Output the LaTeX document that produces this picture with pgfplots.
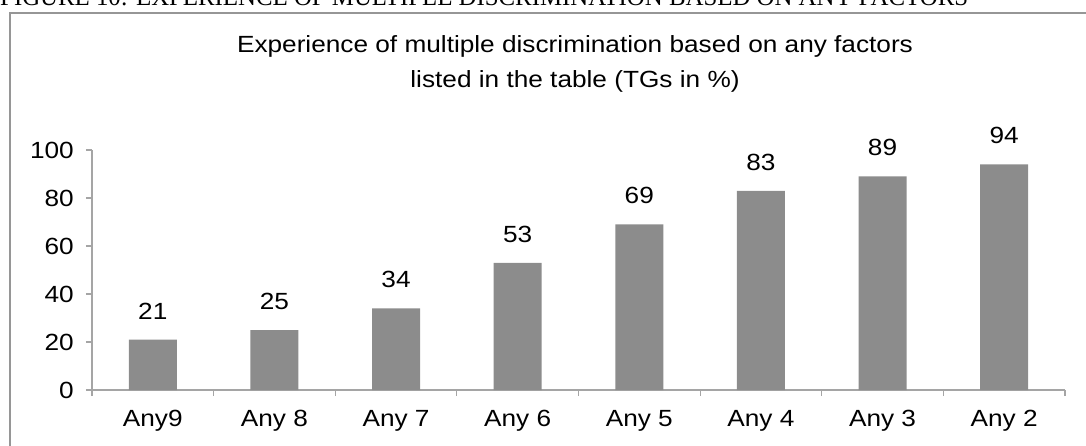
\documentclass[border=0pt]{standalone}
\usepackage{fontspec}
\setmainfont{Liberation Sans}[FakeStretch=1.12]
\newfontfamily\capfont{Liberation Serif}
\usepackage{graphicx}
\usepackage{pgfplots}
\pgfplotsset{compat=1.18}
\definecolor{bargray}{RGB}{140,140,140}
\definecolor{axisgray}{RGB}{165,165,165}
\definecolor{framegray}{RGB}{150,150,150}
\begin{document}
\begin{tikzpicture}[x=1pt,y=1pt]
\path[use as bounding box] (0,0) rectangle (1086,445);
\clip (0,0) rectangle (1086,445);
\node[anchor=base west, inner sep=0] at (0,439) {\resizebox{968pt}{17pt}{\capfont FIGURE 10: EXPERIENCE OF MULTIPLE DISCRIMINATION BASED ON ANY FACTORS}};
\draw[framegray, line width=2pt] (10,-20) -- (10,432) -- (1100,432);
\node[anchor=base, inner sep=0, font=\fontsize{23.4}{28}\selectfont] at (575,392) {Experience of multiple discrimination based on any factors};
\node[anchor=base, inner sep=0, font=\fontsize{23.4}{28}\selectfont] at (575,357) {listed in the table (TGs in \%)};
\begin{axis}[
  at={(92pt,55pt)}, anchor=south west,
  width=973pt, height=240pt, scale only axis,
  xmin=-0.5, xmax=7.5, ymin=0, ymax=100,
  axis x line*=bottom, axis y line*=left,
  axis line style={axisgray, line width=1.2pt, -},
  ytick={0,20,...,100},
  xtick={0,...,7},
  xticklabels={Any9, Any 8, Any 7, Any 6, Any 5, Any 4, Any 3, Any 2},
  minor xtick={-0.5,0.5,...,7.5},
  major x tick style={draw=none},
  tick align=outside,
  major tick length=6pt, minor tick length=6pt,
  tick style={axisgray, line width=1.2pt},
  /pgf/number format/assume math mode=true,
  ticklabel style={font=\fontsize{23.4}{28}\selectfont},
  xticklabel style={anchor=base, inner sep=0, yshift=-30pt},
  yticklabel style={anchor=east, inner sep=0, xshift=-12pt},
  ybar, bar width=48pt,
  nodes near coords,
  nodes near coords style={font=\fontsize{23.4}{28}\selectfont, anchor=south, inner sep=0, yshift=20pt},
  clip=false,
]
\addplot[fill=bargray, draw=none] coordinates {(0,21) (1,25) (2,34) (3,53) (4,69) (5,83) (6,89) (7,94)};
\end{axis}
\end{tikzpicture}
\end{document}
